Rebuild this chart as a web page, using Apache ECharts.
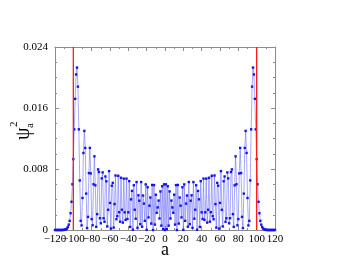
<!DOCTYPE html>
<html>
<head>
<meta charset="utf-8">
<script src="https://cdn.jsdelivr.net/npm/echarts@6/dist/echarts.min.js"></script>
<style>
html,body{margin:0;padding:0;background:#fff;}
#chart{width:359px;height:278px;}
</style>
</head>
<body>
<div id="chart"></div>
<script>
// lattice site index a
const aValues = [
-120,-119,-118,-117,-116,-115,-114,-113,-112,-111,-110,-109,-108,-107,-106,-105,-104,-103,-102,-101,
-100,-99,-98,-97,-96,-95,-94,-93,-92,-91,-90,-89,-88,-87,-86,-85,-84,-83,-82,-81,
-80,-79,-78,-77,-76,-75,-74,-73,-72,-71,-70,-69,-68,-67,-66,-65,-64,-63,-62,-61,
-60,-59,-58,-57,-56,-55,-54,-53,-52,-51,-50,-49,-48,-47,-46,-45,-44,-43,-42,-41,
-40,-39,-38,-37,-36,-35,-34,-33,-32,-31,-30,-29,-28,-27,-26,-25,-24,-23,-22,-21,
-20,-19,-18,-17,-16,-15,-14,-13,-12,-11,-10,-9,-8,-7,-6,-5,-4,-3,-2,-1,
0,
1,2,3,4,5,6,7,8,9,10,11,12,13,14,15,16,17,18,19,20,
21,22,23,24,25,26,27,28,29,30,31,32,33,34,35,36,37,38,39,40,
41,42,43,44,45,46,47,48,49,50,51,52,53,54,55,56,57,58,59,60,
61,62,63,64,65,66,67,68,69,70,71,72,73,74,75,76,77,78,79,80,
81,82,83,84,85,86,87,88,89,90,91,92,93,94,95,96,97,98,99,100,
101,102,103,104,105,106,107,108,109,110,111,112,113,114,115,116,117,118,119,120
];

// psi_a^2, one value per a above
const psiSquared = [
0,0,0,0,0,0,0,0,0,0.00001,0.00002,0.00004,0.00009,0.00019,0.00038,0.0007,0.0012,0.0022,0.0037,0.006,
0.0093,0.0132,0.0172,0.0204,0.0213,0.0188,0.0132,0.0065,0.0012,0.0006,0.0042,0.0101,0.0130,0.01076,0.00477,0.00025,0.00172,0.00747,0.01077,0.00742,
0.00143,0.00062,0.006,0.00966,0.00586,0.00041,0.00208,0.00795,0.00761,0.00155,0.00088,0.00677,0.00755,0.00154,0.00108,0.00702,0.00639,0.00047,0.00265,0.00772,
0.00355,0.00018,0.00581,0.00619,0.00031,0.0034,0.00715,0.00141,0.00182,0.00711,0.00233,0.00109,0.00685,0.00266,0.00097,0.00674,0.00232,0.00133,0.00674,0.00144,
0.00232,0.00641,0.0004,0.00402,0.00513,0.00004,0.00587,0.00266,0.00148,0.00629,0.00029,0.00455,0.00384,0.00076,0.00629,0.00043,0.00452,0.00346,0.0012,0.00598,
0.00002,0.00561,0.00165,0.00319,0.00426,0.00084,0.00591,0,0.00589,0.00071,0.00463,0.00226,0.00296,0.00386,0.00151,0.00506,0.00057,0.00574,0.00011,0.00599,
0,
0.00599,0.00011,0.00574,0.00057,0.00506,0.00151,0.00386,0.00296,0.00226,0.00463,0.00071,0.00589,0,0.00591,0.00084,0.00426,0.00319,0.00165,0.00561,0.00002,
0.00598,0.0012,0.00346,0.00452,0.00043,0.00629,0.00076,0.00384,0.00455,0.00029,0.00629,0.00148,0.00266,0.00587,0.00004,0.00513,0.00402,0.0004,0.00641,0.00232,
0.00144,0.00674,0.00133,0.00232,0.00674,0.00097,0.00266,0.00685,0.00109,0.00233,0.00711,0.00182,0.00141,0.00715,0.0034,0.00031,0.00619,0.00581,0.00018,0.00355,
0.00772,0.00265,0.00047,0.00639,0.00702,0.00108,0.00154,0.00755,0.00677,0.00088,0.00155,0.00761,0.00795,0.00208,0.00041,0.00586,0.00966,0.006,0.00062,0.00143,
0.00742,0.01077,0.00747,0.00172,0.00025,0.00477,0.01076,0.0130,0.0101,0.0042,0.0006,0.0012,0.0065,0.0132,0.0188,0.0213,0.0204,0.0172,0.0132,0.0093,
0.006,0.0037,0.0022,0.0012,0.0007,0.00038,0.00019,0.00009,0.00004,0.00002,0.00001,0,0,0,0,0,0,0,0,0
];

// classical turning points (red vertical lines)
const turningPoints = [-100, 100];
const yRange = [0, 0.024];
const xRange = [-120, 120];

const chart = echarts.init(document.getElementById('chart'), null, {renderer: 'canvas'});
const serif = 'Liberation Serif';
const frame = '#8c8c8c';

function axisCommon() {
  return {
    axisLine: {show: true, onZero: false, lineStyle: {color: frame, width: 1}},
    axisTick: {show: true, inside: true, length: 4, lineStyle: {color: frame}},
    minorTick: {show: true, length: 2, lineStyle: {color: frame}},
    splitLine: {show: false},
    minorSplitLine: {show: false}
  };
}

const xBase = axisCommon();
const yBase = axisCommon();
const fmtX = v => String(v).replace('-', '\u2212');
const xLabelStyle = {color: '#000', fontFamily: serif, fontSize: 11, margin: 4,
  showMinLabel: true, showMaxLabel: true, hideOverlap: false};

const series = [{
  type: 'line',
  xAxisIndex: 0, yAxisIndex: 0,
  data: aValues.map((a, i) => [a, psiSquared[i]]),
  symbol: 'rect',
  symbolSize: 2.4,
  showAllSymbol: true,
  itemStyle: {color: '#1414f0'},
  lineStyle: {color: 'rgba(110,110,255,0.6)', width: 1},
  emphasis: {disabled: true},
  z: 2,
  silent: true
}];
turningPoints.forEach(tp => {
  series.push({
    type: 'line',
    xAxisIndex: 0, yAxisIndex: 0,
    data: [[tp, yRange[0]], [tp, yRange[1]]],
    symbol: 'none',
    lineStyle: {color: '#ff1a1a', width: 1.3},
    z: 3,
    silent: true
  });
});

chart.setOption({
  animation: false,
  backgroundColor: '#fff',
  grid: {left: 55, right: 84, top: 47, bottom: 48},
  xAxis: [
    // main bottom axis: line, ticks, every other label (-120, -80, ...)
    Object.assign({}, xBase, {
      type: 'value', position: 'bottom', min: xRange[0], max: xRange[1], interval: 20,
      minorTick: Object.assign({}, xBase.minorTick, {splitNumber: 2}),
      axisLabel: Object.assign({}, xLabelStyle, {
        formatter: v => ((v - xRange[0]) % 40 === 0 ? fmtX(v) : '')
      }),
      name: 'a', nameLocation: 'middle', nameGap: 11, nameMoveOverlap: false,
      nameTextStyle: {fontFamily: serif, fontSize: 18, color: '#000'}
    }),
    // top frame axis
    Object.assign({}, xBase, {
      type: 'value', position: 'top', min: xRange[0], max: xRange[1], interval: 20,
      minorTick: Object.assign({}, xBase.minorTick, {splitNumber: 2}),
      axisLabel: {show: false}
    }),
    // companion bottom axis carrying the remaining labels (-100, -60, ...)
    {
      type: 'value', position: 'bottom', offset: 0, min: xRange[0], max: xRange[1], interval: 20,
      axisLine: {show: false}, axisTick: {show: false}, minorTick: {show: false},
      splitLine: {show: false},
      axisLabel: Object.assign({}, xLabelStyle, {
        formatter: v => ((v - xRange[0]) % 40 === 20 ? fmtX(v) : '')
      })
    }
  ],
  yAxis: [
    Object.assign({}, yBase, {
      type: 'value', position: 'left', min: yRange[0], max: yRange[1], interval: 0.008,
      minorTick: Object.assign({}, yBase.minorTick, {splitNumber: 4}),
      axisLabel: {
        color: '#000', fontFamily: serif, fontSize: 11, margin: 7,
        showMinLabel: true, showMaxLabel: true,
        formatter: v => (v === 0 ? '0' : v.toFixed(3))
      }
    }),
    Object.assign({}, yBase, {
      type: 'value', position: 'right', min: yRange[0], max: yRange[1], interval: 0.008,
      minorTick: Object.assign({}, yBase.minorTick, {splitNumber: 4}),
      axisLabel: {show: false}
    })
  ],
  graphic: [{
    type: 'group',
    x: 24, y: 140,
    rotation: Math.PI / 2,
    children: [
      {type: 'text', x: 0, y: 0, style: {text: '\u03c8', font: '20px "Liberation Serif"', fill: '#000', textVerticalAlign: 'middle'}},
      {type: 'text', x: 12, y: 6, style: {text: 'a', font: '11px "Liberation Serif"', fill: '#000', textVerticalAlign: 'middle'}},
      {type: 'text', x: 13, y: -10, style: {text: '2', font: '11px "Liberation Serif"', fill: '#000', textVerticalAlign: 'middle'}}
    ]
  }],
  series: series
});
</script>
</body>
</html>
